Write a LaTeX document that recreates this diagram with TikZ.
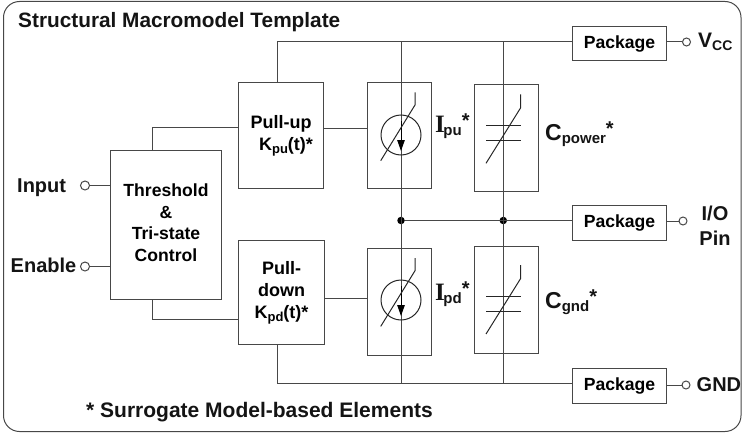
\documentclass[tikz,border=0pt]{standalone}
\usepackage{fontspec}
\setmainfont{Liberation Sans}
\newfontfamily\serifface{Liberation Serif}
\usetikzlibrary{arrows.meta}
\newcommand{\subtxt}[1]{\raisebox{-3.5pt}{\fontsize{15}{15}\selectfont #1}}
\newcommand{\smallsub}[1]{\raisebox{-2.5pt}{\fontsize{13}{13}\selectfont #1}}
\newcommand{\upstar}{\raisebox{5pt}{*}}
\newcommand{\serifI}{{\serifface\fontsize{25}{25}\selectfont I}\hspace{-1.5pt}}
\tikzset{
  wire/.style={draw=black!72,line width=1pt},
  block/.style={wire,inner sep=0pt,align=center,anchor=north west,
    font=\fontsize{18}{22.3}\selectfont\bfseries},
  txt/.style={inner sep=0pt,anchor=base west,text=black!92,
    font=\fontsize{20}{22}\selectfont\bfseries},
  pin/.style={circle,wire,fill=white,inner sep=0pt,minimum size=8pt},
  dot/.style={circle,fill=black,inner sep=0pt,minimum size=7.5pt},
  sym/.style={line width=1pt,black!85}
}
\begin{document}
\begin{tikzpicture}[x=1pt,y=-1pt]
\useasboundingbox (0,0) rectangle (743,433);
\draw[wire,rounded corners=16pt] (3.5,1.5) rectangle (741,431.5);
\node[txt,font=\fontsize{20.8}{22}\selectfont\bfseries] (title) at (18,28) {Structural Macromodel Template};
\node[txt,font=\fontsize{21}{22}\selectfont\bfseries] (note) at (86,417) {* Surrogate Model-based Elements};
% blocks
\node[block,minimum width=111pt,minimum height=149pt,font=\fontsize{17.6}{21.7}\selectfont\bfseries] (ctrl) at (110,150) {Threshold\\\&\\Tri-state\\Control\\[-17pt]\mbox{}};
\node[block,minimum width=85pt,minimum height=106pt] (up) at (238,82) {Pull-up\\\hspace*{10pt}K\smallsub{pu}(t)*};
\node[block,minimum width=86pt,minimum height=104pt] (down) at (238,240) {Pull-\\down\\K\smallsub{pd}(t)*};
\node[block,minimum width=64pt,minimum height=106pt] (ipu) at (367,82) {};
\node[block,minimum width=64.5pt,minimum height=107pt] (cpow) at (473.5,84) {};
\node[block,minimum width=64pt,minimum height=107pt] (ipd) at (367,248) {};
\node[block,minimum width=64.5pt,minimum height=107pt] (cgnd) at (473.5,246) {};
\node[block,minimum width=94pt,minimum height=34.5pt,font=\fontsize{17.6}{20}\selectfont\bfseries] (pkgv) at (572,26) {Package};
\node[block,minimum width=94pt,minimum height=34.5pt,font=\fontsize{17.6}{20}\selectfont\bfseries] (pkgio) at (572,205) {Package};
\node[block,minimum width=94pt,minimum height=34.5pt,font=\fontsize{17.6}{20}\selectfont\bfseries] (pkgg) at (572,368) {Package};
% terminals
\node[pin,minimum size=9pt] (pinin) at (85,185.5) {};
\node[pin,minimum size=9pt] (pinen) at (85,266.5) {};
\node[pin] (pinv) at (686.5,42) {};
\node[pin] (pinio) at (683,221) {};
\node[pin] (ping) at (686,385) {};
\node[dot] (ja) at (401,220.5) {};
\node[dot] (jb) at (503.3,220.5) {};
\coordinate (ta) at (401,42);
\coordinate (tb) at (503.3,42);
\coordinate (tu) at (277,42);
\coordinate (ba) at (401,383.5);
\coordinate (bb) at (503.3,383.5);
\coordinate (bd) at (277,383.5);
% wires
\draw[wire] (tu)--(up.north-|tu);
\draw[wire] (tu)--(pkgv.west|-tu);
\draw[wire] (bd)--(down.south-|bd);
\draw[wire] (bd)--(pkgg.west|-bd);
\draw[wire] (ta)--(ba);
\draw[wire] (tb)--(bb);
\draw[wire] (ja)--(pkgio.west|-ja);
\draw[wire] (pkgv.east|-pinv)--(pinv);
\draw[wire] (pkgio.east|-pinio)--(pinio);
\draw[wire] (pkgg.east|-ping)--(ping);
\draw[wire] (pinin)--(ctrl.west|-pinin);
\draw[wire] (pinen)--(ctrl.west|-pinen);
\draw[wire] (ctrl.north-|152.5,0)--(152.5,127)--(up.west|-0,127);
\draw[wire] (ctrl.south-|152.5,0)--(152.5,319)--(down.west|-0,319);
\draw[wire] (up.east|-0,128.5)--(ipu.west|-0,128.5);
\draw[wire] (down.east|-0,298)--(ipd.west|-0,298);
% sources
\foreach \cy/\sh in {135/0,300/165.7}{
  \draw[sym] (401,\cy) circle (20);
  \draw[black,line width=1pt,-{Triangle[length=11pt,width=7.5pt]}] (401,\cy-14)--(401,\cy+16);
  \draw[sym] (380.7,160.7+\sh)--(415,105+\sh)--(415,92.3+\sh);
}
% capacitors
\foreach \sh in {0,170.7}{
  \draw[sym] (486,125.7+\sh)--(520.7,125.7+\sh);
  \draw[sym] (486,140.7+\sh)--(520.7,140.7+\sh);
  \draw[sym] (486,163.3+\sh)--(520.7,107.7+\sh)--(520.7,94.3+\sh);
}
% labels
\node[txt] (lin) at (17,192) {Input};
\node[txt] (len) at (10.5,272) {Enable};
\node[txt] (lipu) at (435,132) {\serifI\subtxt{pu}\upstar};
\node[txt] (lipd) at (435,300) {\serifI\subtxt{pd}\upstar};
\node[txt] (lcpow) at (545,140) {{\fontsize{23}{23}\selectfont C}\subtxt{power}\upstar};
\node[txt] (lcgnd) at (545,308) {{\fontsize{23}{23}\selectfont C}\subtxt{gnd}\upstar};
\node[txt] (lv) at (698,48) {{\fontsize{21}{21}\selectfont V}\raisebox{-2.5pt}{\fontsize{14}{14}\selectfont CC}};
\node[txt,anchor=center,align=center,font=\fontsize{20}{25}\selectfont\bfseries] (lio) at (715,226) {I/O\\Pin};
\node[txt] (lg) at (696.5,391) {GND};
\end{tikzpicture}
\end{document}
